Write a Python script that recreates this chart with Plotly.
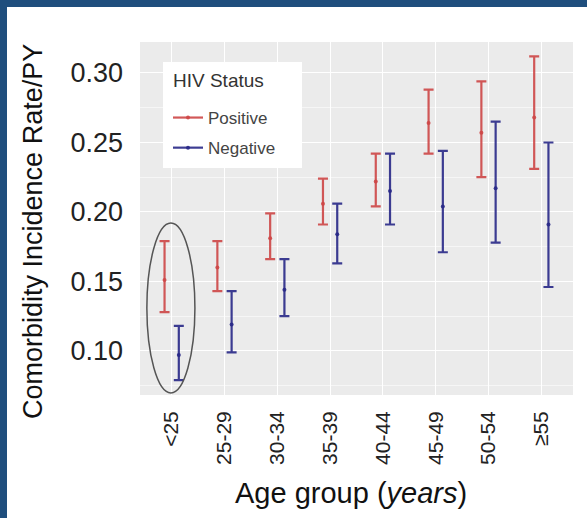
import plotly.graph_objects as go

# ---- data ----
age_groups = ["<25", "25-29", "30-34", "35-39", "40-44", "45-49", "50-54", "≥55"]
pos_rate  = [0.151, 0.160, 0.181, 0.206, 0.222, 0.264, 0.257, 0.268]
pos_lower = [0.128, 0.143, 0.166, 0.191, 0.204, 0.242, 0.225, 0.231]
pos_upper = [0.179, 0.179, 0.199, 0.224, 0.242, 0.288, 0.294, 0.312]
neg_rate  = [0.097, 0.119, 0.144, 0.184, 0.215, 0.204, 0.217, 0.191]
neg_lower = [0.079, 0.099, 0.125, 0.163, 0.191, 0.171, 0.178, 0.146]
neg_upper = [0.118, 0.143, 0.166, 0.206, 0.242, 0.244, 0.265, 0.250]
y_ticks = [0.10, 0.15, 0.20, 0.25, 0.30]
series_names = ["Positive", "Negative"]

RED = "rgba(205,70,70,0.9)"
BLUE = "rgba(40,40,135,0.9)"
DODGE = 0.135

idx = list(range(1, len(age_groups) + 1))

def trace(rate, lo, hi, off, color, name):
    return go.Scatter(
        x=[i + off for i in idx], y=rate, mode="markers", name=name,
        showlegend=False,
        marker=dict(color=color, size=4),
        error_y=dict(type="data", symmetric=False,
                     array=[h - r for h, r in zip(hi, rate)],
                     arrayminus=[r - l for r, l in zip(rate, lo)],
                     color=color, thickness=2.2, width=5),
    )

fig = go.Figure()
fig.add_trace(trace(pos_rate, pos_lower, pos_upper, -DODGE, RED, series_names[0]))
fig.add_trace(trace(neg_rate, neg_lower, neg_upper, DODGE, BLUE, series_names[1]))
# legend entries (pointrange look)
for name, color in zip(series_names, [RED, BLUE]):
    fig.add_trace(go.Scatter(x=[None], y=[None], mode="lines+markers", name=name,
                             legendgroup=name,
                             line=dict(color=color, width=2.2),
                             marker=dict(color=color, size=4)))

W, H = 587, 518
ML, MR, MT, MB = 140, 14, 42, 123
PW, PH = W - ML - MR, H - MT - MB

def px_x(px):
    return (px - ML) / PW

def px_y(py):
    return 1 - (py - MT) / PH

FONT = "Liberation Sans, Arial, sans-serif"

fig.update_layout(
    width=W, height=H,
    margin=dict(l=ML, r=MR, t=MT, b=MB, pad=0),
    paper_bgcolor="white", plot_bgcolor="#ebebeb",
    font=dict(family=FONT, color="#222"),
    showlegend=True,
    legend=dict(
        x=px_x(168), y=px_y(100), xanchor="left", yanchor="top",
        bgcolor="rgba(0,0,0,0)", borderwidth=0,
        font=dict(size=17, color="#444"),
        itemwidth=30, tracegroupgap=5,
    ),
    xaxis=dict(
        range=[0.4, 8.6], tickmode="array", tickvals=idx, ticktext=age_groups,
        tickangle=-90, tickfont=dict(size=21, color="#222"),
        showgrid=True, gridcolor="white", gridwidth=1.4,
        zeroline=False, showline=False, ticks="", ticklabelstandoff=11,
    ),
    yaxis=dict(
        range=[0.0683, 0.3223], tickmode="array", tickvals=y_ticks,
        ticktext=[f"{v:.2f}" for v in y_ticks],
        tickfont=dict(size=27, color="#222"),
        showgrid=True, gridcolor="white", gridwidth=1.4,
        minor=dict(tickmode="array", tickvals=[0.075, 0.125, 0.175, 0.225, 0.275],
                   showgrid=True, gridcolor="#f6f6f6", gridwidth=0.8),
        zeroline=False, showline=False, ticks="", ticklabelstandoff=16,
    ),
    shapes=[
        # legend background box
        dict(type="rect", xref="paper", yref="paper", x0=px_x(163), x1=px_x(302),
             y0=px_y(168), y1=px_y(62), fillcolor="white", line=dict(width=0),
             layer="above"),
        # ellipse highlighting the youngest group
        dict(type="circle", xref="x", yref="y", x0=0.53, x1=1.44, y0=0.0698, y1=0.192,
             line=dict(color="#555", width=1.5)),
        # blue frame (top and left)
        dict(type="rect", xref="paper", yref="paper", x0=px_x(0), x1=px_x(7),
             y0=px_y(H), y1=px_y(0), fillcolor="#1f4e7d", line=dict(width=0), layer="above"),
        dict(type="rect", xref="paper", yref="paper", x0=px_x(0), x1=px_x(W),
             y0=px_y(7), y1=px_y(0), fillcolor="#1f4e7d", line=dict(width=0), layer="above"),
    ],
    annotations=[
        dict(text="HIV Status", xref="paper", yref="paper",
             x=px_x(171), y=px_y(81), xanchor="left", yanchor="middle",
             showarrow=False, font=dict(size=19, color="#333")),
        dict(text="Comorbidity Incidence Rate/PY", xref="paper", yref="paper",
             x=px_x(33), y=px_y(232), xanchor="center", yanchor="middle",
             textangle=-90, showarrow=False, font=dict(size=27, color="#111")),
        dict(text="Age group (<i>years</i>)", xref="paper", yref="paper",
             x=px_x(351), y=px_y(493), xanchor="center", yanchor="middle",
             showarrow=False, font=dict(size=29, color="#111")),
    ],
)

fig.write_html("out.html", config={"displayModeBar": False},
               post_script="document.body.style.margin='0';")
